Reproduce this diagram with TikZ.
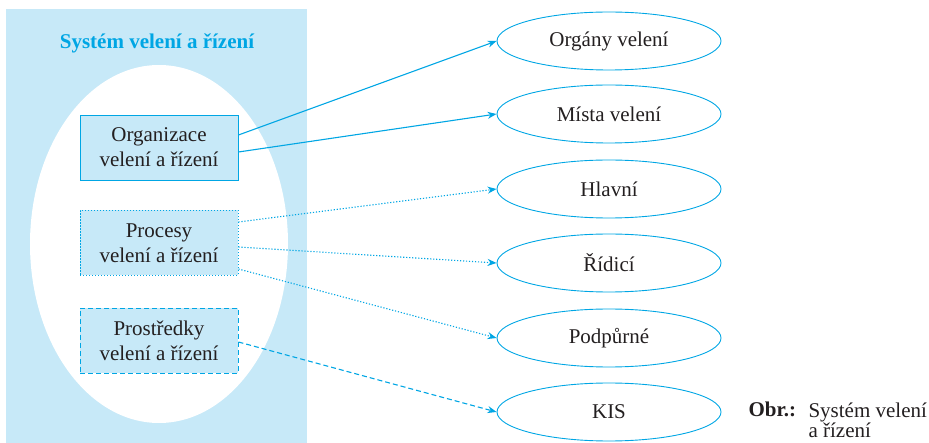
\documentclass[tikz,border=0pt]{standalone}
\usepackage{fontspec}
\setmainfont{Liberation Serif}
\usetikzlibrary{shapes.geometric,arrows.meta}
\definecolor{modra}{RGB}{0,166,228}
\definecolor{svetla}{RGB}{199,233,248}
\definecolor{tisk}{RGB}{35,31,32}
\begin{document}
\begin{tikzpicture}[x=1pt,y=-1pt,
  font=\fontsize{21}{25}\selectfont, text=tisk,
  blok/.style={draw=modra, fill=svetla, line width=0.9pt, inner sep=0pt,
    minimum width=158pt, minimum height=65pt, align=center},
  cil/.style={ellipse, draw=modra, line width=0.9pt, inner sep=0pt,
    minimum width=224pt, minimum height=58pt},
  tecky/.style={dash pattern=on 1.2pt off 1.8pt},
  carky/.style={dash pattern=on 5pt off 3pt},
  sipka/.style={draw=modra, line width=1.1pt, -{Stealth[length=9pt,width=7pt]}}]
  \useasboundingbox (0,0) rectangle (929,443);
  % podklad systemu
  \fill[svetla] (6,9) rectangle (307,443);
  \fill[white] (159,244) ellipse [x radius=129, y radius=179];
  \node[font=\fontsize{21}{25}\selectfont\bfseries, text=modra] (nazev) at (157,43) {Systém velení a řízení};
  % bloky vlevo
  \node[blok] (org) at (159,147.5) {Organizace\\velení a řízení};
  \node[blok, tecky] (proc) at (159,243) {Procesy\\velení a řízení};
  \node[blok, carky] (prost) at (159,340.5) {Prostředky\\velení a řízení};
  % elipsy vpravo
  \node[cil] (organy) at (609,41) {Orgány velení};
  \node[cil] (mista) at (609,114) {Místa velení};
  \node[cil] (hlavni) at (609,189) {Hlavní};
  \node[cil] (ridici) at (609,263) {Řídicí};
  \node[cil] (podp) at (609,338) {Podpůrné};
  \node[cil] (kis) at (609,412) {KIS};
  % spojnice
  \draw[sipka] ([yshift=12.5pt]org.east) -- (organy.west);
  \draw[sipka] ([yshift=-4.5pt]org.east) -- (mista.west);
  \draw[sipka, tecky] ([yshift=21pt]proc.east) -- (hlavni.west);
  \draw[sipka, tecky] ([yshift=-4pt]proc.east) -- (ridici.west);
  \draw[sipka, tecky] ([yshift=-26pt]proc.east) -- (podp.west);
  \draw[sipka, carky] ([yshift=-1.5pt]prost.east) -- (kis.west);
  % popisek
  \node[anchor=base west, font=\fontsize{21}{25}\selectfont\bfseries] (obr) at (745,417) {Obr.:};
  \node[anchor=base west, align=left, font=\fontsize{21}{20}\selectfont] (popis) at (805,437) {Systém velení\\a řízení};
\end{tikzpicture}
\end{document}
